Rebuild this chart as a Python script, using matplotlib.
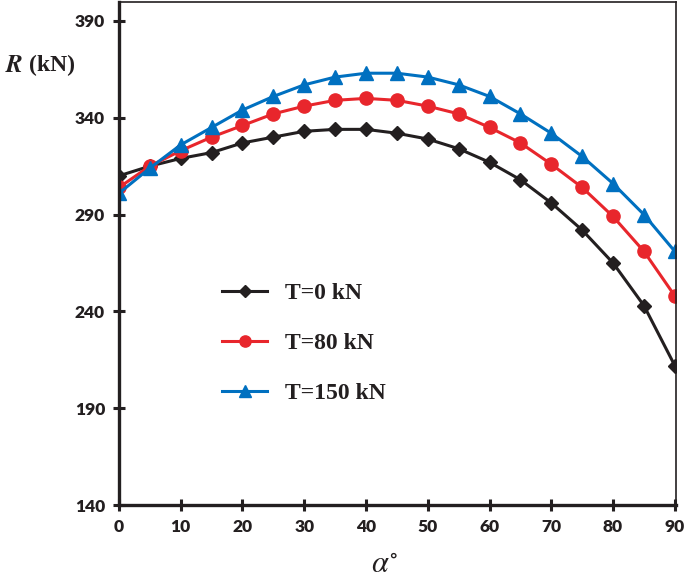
import matplotlib
matplotlib.use('Agg')
import matplotlib.pyplot as plt

plt.rcParams['mathtext.fontset'] = 'stix'

alpha = [0, 5, 10, 15, 20, 25, 30, 35, 40, 45, 50, 55, 60, 65, 70, 75, 80, 85, 90]
r_t0 = [310, 315, 319, 322, 327, 330, 333, 334, 334, 332, 329, 324, 317, 308, 296, 282, 265, 243, 212]
r_t80 = [304, 315, 323, 330, 336, 342, 346, 349, 350, 349, 346, 342, 335, 327, 316, 304, 289, 271, 248]
r_t150 = [301, 314, 326, 335, 344, 351, 357, 361, 363, 363, 361, 357, 351, 342, 332, 320, 306, 290, 271]
labels = ['T=0 kN', 'T=80 kN', 'T=150 kN']

fig = plt.figure(figsize=(6.85, 5.81), dpi=100)
ax = fig.add_axes([0.1737, 0.1308, 0.8132, 0.8665])

ax.plot(alpha, r_t0, color='#231F20', lw=2.2, marker='D', ms=7.5, label=labels[0])
ax.plot(alpha, r_t80, color='#E8262C', lw=2.2, marker='o', ms=9.5, label=labels[1])
ax.plot(alpha, r_t150, color='#0070C0', lw=2.2, marker='^', ms=10, label=labels[2])

ax.set_xlim(0, 90.2)
ax.set_ylim(140, 400)
ax.set_xticks(range(0, 91, 10))
ax.set_yticks(range(140, 391, 50))

for s in ['left', 'bottom']:
    ax.spines[s].set_linewidth(2.4)
for s in ['top', 'right']:
    ax.spines[s].set_linewidth(1.2)
for s in ax.spines.values():
    s.set_color('#231F20')
ax.tick_params(direction='inout', length=8, width=2.2, color='#231F20', pad=6)
for t in ax.get_xticklabels() + ax.get_yticklabels():
    t.set_fontfamily('Lato')
    t.set_fontweight('heavy')
    t.set_fontsize(12.5)
    t.set_color('#231F20')

# y label: italic R, bold serif units
fig.text(0.008, 0.888, r'$\boldsymbol{R}$', fontsize=18, va='center', ha='left', color='#231F20')
fig.text(0.042, 0.888, '(kN)', fontsize=17, fontweight='bold', family='Liberation Serif',
         va='center', ha='left', color='#231F20')
fig.text(0.562, 0.028, r'$\alpha^{\circ}$', fontsize=22, ha='center', va='center', color='#231F20')

leg = ax.legend(loc='center left', bbox_to_anchor=(0.147, 0.321), frameon=False,
                prop={'family': 'Liberation Serif', 'weight': 'bold', 'size': 17},
                handlelength=1.9, labelspacing=1.2, handletextpad=0.76, markerscale=0.85)
for t in leg.get_texts():
    t.set_color('#231F20')

plt.savefig('out.png', dpi=100, facecolor='white')
